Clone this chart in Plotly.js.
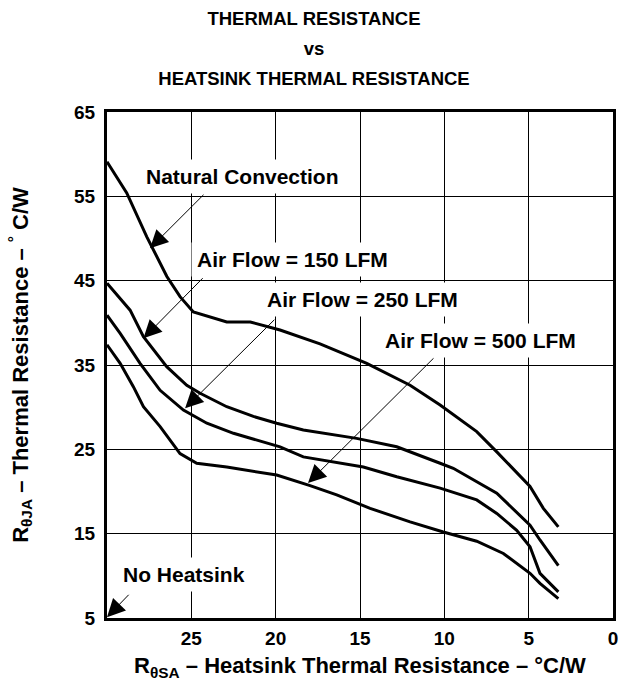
<!DOCTYPE html>
<html>
<head>
<meta charset="utf-8">
<script src="https://cdn.plot.ly/plotly-3.0.1.min.js"></script>
<style>html,body{margin:0;padding:0;background:#fff;}#chart{width:619px;height:681px;}</style>
</head>
<body>
<div id="chart"></div>
<script>
// Heatsink thermal resistance (°C/W) — x values
const naturalX = [30, 28.83, 27.64, 26.45, 25.67, 24.88, 22.9, 21.5, 19.74, 17.37, 14.6, 12.03, 10.25, 8.08, 6.89, 4.92, 4.13, 3.24];
const naturalY = [59.1, 55.4, 50.2, 45.5, 43.1, 41.3, 40.1, 40.1, 39.15, 37.5, 35.2, 32.6, 30.25, 27.1, 24.7, 20.6, 18.0, 15.8];

const lfm150X = [30, 28.63, 27.84, 26.46, 25.27, 24.48, 22.9, 21.32, 19.94, 18.36, 15.2, 12.82, 10.25, 9.47, 6.89, 4.92, 4.33, 3.24];
const lfm150Y = [44.7, 41.5, 38.35, 34.8, 32.6, 31.65, 30.05, 28.9, 28.1, 27.3, 26.3, 25.3, 23.35, 22.75, 19.8, 16.0, 14.25, 11.2];

const lfm250X = [30, 29.22, 28.04, 26.85, 25.47, 24.08, 22.5, 19.74, 18.36, 14.8, 12.82, 10.25, 8.08, 6.89, 5.71, 4.92, 4.33, 3.24];
const lfm250Y = [40.9, 38.75, 35.2, 32.0, 29.66, 28.1, 26.9, 25.3, 24.1, 22.9, 21.75, 20.4, 19.0, 17.4, 15.4, 13.45, 10.3, 8.1];

const lfm500X = [30, 29.22, 28.43, 27.84, 26.85, 25.67, 24.68, 22.9, 19.94, 17.96, 16.38, 14.4, 12.03, 10.06, 8.08, 6.5, 4.92, 4.33, 3.24];
const lfm500Y = [37.4, 35.2, 32.4, 30.05, 27.7, 24.5, 23.35, 22.9, 21.95, 20.7, 19.6, 18.0, 16.4, 15.2, 14.1, 12.65, 10.3, 9.1, 7.3];

const xTickVals = [0, 5, 10, 15, 20, 25];
const xTickText = ['0', '5', '10', '15', '20', '25'];
const yTickVals = [5, 15, 25, 35, 45, 55, 65];
const yTickText = ['5', '15', '25', '35', '45', '55', '65'];

const seriesNames = ['Natural Convection', 'Air Flow = 150 LFM', 'Air Flow = 250 LFM', 'Air Flow = 500 LFM'];
const noHeatsinkLabel = 'No Heatsink';

const FONT = 'Liberation Sans, Arial, Helvetica, sans-serif';
const lineStyle = {color: '#000', width: 3};

const xs = [naturalX, lfm150X, lfm250X, lfm500X];
const ys = [naturalY, lfm150Y, lfm250Y, lfm500Y];
const traces = xs.map((x, i) => ({
  x: x, y: ys[i], type: 'scatter', mode: 'lines', name: seriesNames[i],
  line: lineStyle, hoverinfo: 'skip'
}));

// label positions (data coords) and arrows (tail -> tip in data coords)
const labelPos = [
  {x: 21.99, y: 57.41}, {x: 19.0, y: 47.53}, {x: 14.88, y: 42.71}, {x: 7.85, y: 37.96}
];
const arrowPos = [
  {tx: 24.19, ty: 55.36, hx: 27.45, hy: 48.84},
  {tx: 24.24, ty: 45.47, hx: 27.84, hy: 38.16},
  {tx: 19.99, ty: 40.54, hx: 25.37, hy: 29.86},
  {tx: 10.55, ty: 35.98, hx: 18.08, hy: 21.0}
];

const annFont = {family: FONT, size: 21, color: '#000', weight: 'bold'};
const annotations = [];
arrowPos.forEach(a => annotations.push({
  x: a.hx, y: a.hy, xref: 'x', yref: 'y', ax: a.tx, ay: a.ty, axref: 'x', ayref: 'y',
  text: '', showarrow: true, arrowhead: 2, arrowsize: 3.6, arrowwidth: 1, arrowcolor: '#000', standoff: 0
}));
labelPos.forEach((p, i) => annotations.push({
  x: p.x, y: p.y, xref: 'x', yref: 'y', text: seriesNames[i], showarrow: false,
  font: annFont, bgcolor: '#fff', borderpad: 5, xanchor: 'center', yanchor: 'middle'
}));
// No heatsink
annotations.push({
  x: 30, y: 5.1, xref: 'x', yref: 'y', ax: 28.63, ay: 7.93, axref: 'x', ayref: 'y',
  text: '', showarrow: true, arrowhead: 2, arrowsize: 3.6, arrowwidth: 1, arrowcolor: '#000', standoff: 0
});
annotations.push({
  x: 25.43, y: 10.1, xref: 'x', yref: 'y', text: noHeatsinkLabel, showarrow: false,
  font: annFont, bgcolor: '#fff', borderpad: 5, xanchor: 'center', yanchor: 'middle'
});

const layout = {
  width: 619, height: 681,
  margin: {l: 107, r: 6, t: 112, b: 63, pad: 0},
  paper_bgcolor: '#fff', plot_bgcolor: '#fff',
  showlegend: false,
  font: {family: FONT, color: '#000', weight: 'bold'},
  title: {
    text: '<span style="font-size:18.5px">THERMAL RESISTANCE<br>vs<br>HEATSINK THERMAL RESISTANCE</span>',
    font: {family: FONT, size: 23, color: '#000', weight: 'bold'},
    x: 314 / 619, xanchor: 'center', xref: 'container',
    y: 1 - 25 / 681, yanchor: 'middle', yref: 'container'
  },
  xaxis: {
    range: [30, 0], tickvals: xTickVals, ticktext: xTickText,
    showgrid: true, gridcolor: '#000', gridwidth: 1, zeroline: false,
    showline: true, linecolor: '#000', linewidth: 3, mirror: true,
    ticks: '', ticklabelstandoff: 1,
    tickfont: {family: FONT, size: 19, color: '#000', weight: 'bold'},
    title: {text: 'R<sub>θSA</sub> – Heatsink Thermal Resistance – °C/W', font: {family: FONT, size: 22, color: '#000', weight: 'bold'}, standoff: 16}
  },
  yaxis: {
    range: [5, 65], tickvals: yTickVals, ticktext: yTickText,
    showgrid: true, gridcolor: '#000', gridwidth: 1, zeroline: false,
    showline: true, linecolor: '#000', linewidth: 3, mirror: true,
    ticks: '', ticklabelstandoff: 5,
    tickfont: {family: FONT, size: 19, color: '#000', weight: 'bold'},
    title: {text: 'R<sub>θJA</sub> – Thermal Resistance – <sup>°</sup> C/W', font: {family: FONT, size: 22, color: '#000', weight: 'bold'}, standoff: 40}
  },
  annotations: annotations
};

Plotly.newPlot('chart', traces, layout, {staticPlot: true, displayModeBar: false});
</script>
</body>
</html>
